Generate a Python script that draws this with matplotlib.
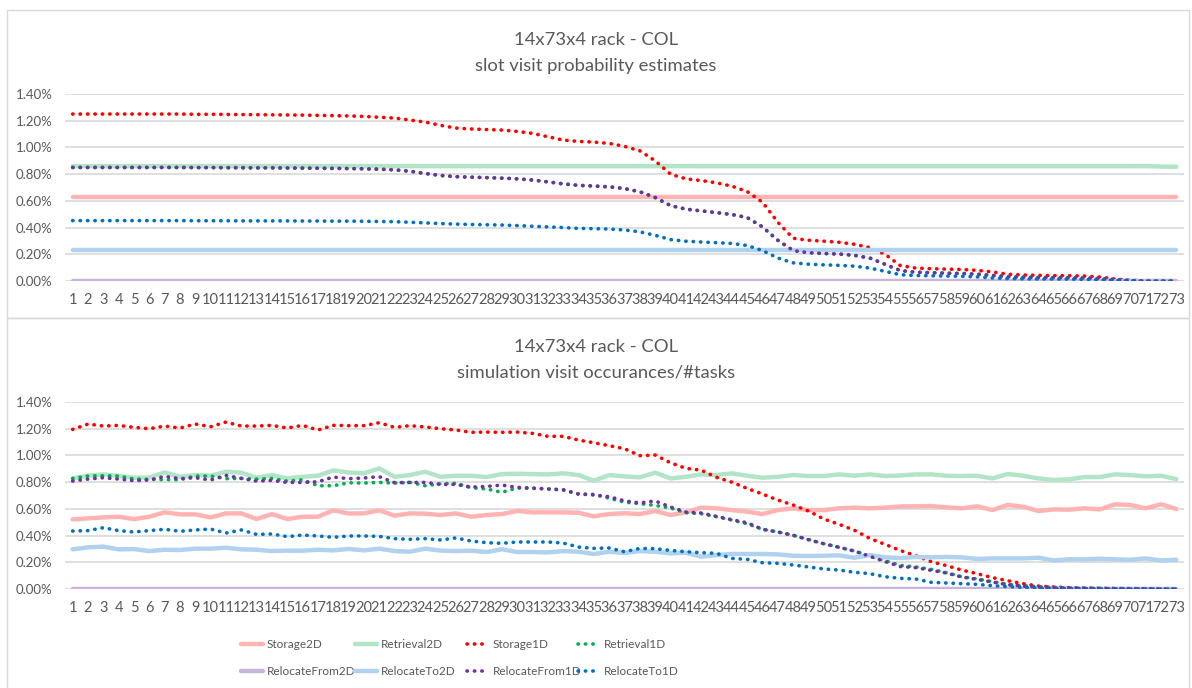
import matplotlib.pyplot as plt
from matplotlib.patches import Rectangle

plt.rcParams['font.family'] = ['Lato', 'DejaVu Sans']

# slot number along the column (x axis)
slots = list(range(1, 74))

series_names = ['Storage2D', 'Retrieval2D', 'Storage1D', 'Retrieval1D',
                'RelocateFrom2D', 'RelocateTo2D', 'RelocateFrom1D', 'RelocateTo1D']

# ---- top chart: slot visit probability estimates (%) ----
top_storage2d = [0.63, 0.63, 0.63, 0.63, 0.63, 0.63, 0.63, 0.63, 0.63, 0.63,
                 0.63, 0.63, 0.63, 0.63, 0.63, 0.63, 0.63, 0.63, 0.63, 0.63,
                 0.63, 0.63, 0.63, 0.63, 0.63, 0.63, 0.63, 0.63, 0.63, 0.63,
                 0.63, 0.63, 0.63, 0.63, 0.63, 0.63, 0.63, 0.63, 0.63, 0.63,
                 0.63, 0.63, 0.63, 0.63, 0.63, 0.63, 0.63, 0.63, 0.63, 0.63,
                 0.63, 0.63, 0.63, 0.63, 0.63, 0.63, 0.63, 0.63, 0.63, 0.63,
                 0.63, 0.63, 0.63, 0.63, 0.63, 0.63, 0.63, 0.63, 0.63, 0.63,
                 0.63, 0.63, 0.63]
top_retrieval2d = [0.86, 0.86, 0.86, 0.86, 0.86, 0.86, 0.86, 0.86, 0.86, 0.86,
                   0.86, 0.86, 0.86, 0.86, 0.86, 0.86, 0.86, 0.86, 0.86, 0.86,
                   0.86, 0.86, 0.86, 0.86, 0.86, 0.86, 0.86, 0.86, 0.86, 0.86,
                   0.86, 0.86, 0.86, 0.86, 0.86, 0.86, 0.86, 0.86, 0.86, 0.86,
                   0.86, 0.86, 0.86, 0.86, 0.86, 0.86, 0.86, 0.86, 0.86, 0.86,
                   0.86, 0.86, 0.86, 0.86, 0.86, 0.86, 0.86, 0.86, 0.86, 0.86,
                   0.86, 0.86, 0.86, 0.86, 0.86, 0.86, 0.86, 0.86, 0.86, 0.86,
                   0.86, 0.857, 0.855]
top_storage1d = [1.25, 1.25, 1.25, 1.25, 1.25, 1.25, 1.25, 1.25, 1.248, 1.248,
                 1.247, 1.246, 1.245, 1.244, 1.243, 1.242, 1.240, 1.238, 1.236, 1.232,
                 1.226, 1.220, 1.205, 1.190, 1.165, 1.145, 1.138, 1.134, 1.130, 1.120,
                 1.105, 1.080, 1.055, 1.045, 1.040, 1.030, 1.008, 0.975, 0.900, 0.800,
                 0.765, 0.752, 0.735, 0.710, 0.670, 0.590, 0.440, 0.320, 0.305, 0.298,
                 0.290, 0.275, 0.250, 0.200, 0.115, 0.097, 0.092, 0.089, 0.086, 0.080,
                 0.068, 0.050, 0.045, 0.042, 0.040, 0.040, 0.037, 0.030, 0.015, 0.005,
                 0.001, 0.0, 0.0]
top_from1d = [0.850, 0.850, 0.850, 0.850, 0.850, 0.850, 0.850, 0.850, 0.849, 0.849,
              0.848, 0.848, 0.847, 0.847, 0.846, 0.845, 0.844, 0.843, 0.842, 0.840,
              0.837, 0.832, 0.822, 0.805, 0.790, 0.781, 0.777, 0.774, 0.770, 0.765,
              0.756, 0.742, 0.727, 0.716, 0.711, 0.705, 0.692, 0.668, 0.625, 0.565,
              0.538, 0.525, 0.512, 0.498, 0.475, 0.405, 0.305, 0.228, 0.212, 0.206,
              0.202, 0.192, 0.172, 0.125, 0.078, 0.066, 0.062, 0.059, 0.056, 0.051,
              0.042, 0.032, 0.028, 0.026, 0.025, 0.024, 0.022, 0.018, 0.010, 0.004,
              0.0, 0.0, 0.0]
top_retrieval1d = top_from1d  # hidden under RelocateFrom1D in the estimate chart
top_from2d = [0.0, 0.0, 0.0, 0.0, 0.0, 0.0, 0.0, 0.0, 0.0, 0.0,
              0.0, 0.0, 0.0, 0.0, 0.0, 0.0, 0.0, 0.0, 0.0, 0.0,
              0.0, 0.0, 0.0, 0.0, 0.0, 0.0, 0.0, 0.0, 0.0, 0.0,
              0.0, 0.0, 0.0, 0.0, 0.0, 0.0, 0.0, 0.0, 0.0, 0.0,
              0.0, 0.0, 0.0, 0.0, 0.0, 0.0, 0.0, 0.0, 0.0, 0.0,
              0.0, 0.0, 0.0, 0.0, 0.0, 0.0, 0.0, 0.0, 0.0, 0.0,
              0.0, 0.0, 0.0, 0.0, 0.0, 0.0, 0.0, 0.0, 0.0, 0.0,
              0.0, 0.0, 0.0]
top_to2d = [0.23, 0.23, 0.23, 0.23, 0.23, 0.23, 0.23, 0.23, 0.23, 0.23,
            0.23, 0.23, 0.23, 0.23, 0.23, 0.23, 0.23, 0.23, 0.23, 0.23,
            0.23, 0.23, 0.23, 0.23, 0.23, 0.23, 0.23, 0.23, 0.23, 0.23,
            0.23, 0.23, 0.23, 0.23, 0.23, 0.23, 0.23, 0.23, 0.23, 0.23,
            0.23, 0.23, 0.23, 0.23, 0.23, 0.23, 0.23, 0.23, 0.23, 0.23,
            0.23, 0.23, 0.23, 0.23, 0.23, 0.23, 0.23, 0.23, 0.23, 0.23,
            0.23, 0.23, 0.23, 0.23, 0.23, 0.23, 0.23, 0.23, 0.23, 0.23,
            0.23, 0.23, 0.23]
top_to1d = [0.452, 0.452, 0.452, 0.452, 0.452, 0.452, 0.452, 0.452, 0.451, 0.451,
            0.451, 0.450, 0.450, 0.450, 0.450, 0.449, 0.449, 0.448, 0.448, 0.447,
            0.446, 0.444, 0.440, 0.435, 0.430, 0.426, 0.423, 0.421, 0.419, 0.415,
            0.410, 0.405, 0.400, 0.394, 0.392, 0.389, 0.382, 0.368, 0.342, 0.310,
            0.298, 0.292, 0.287, 0.281, 0.266, 0.228, 0.172, 0.136, 0.126, 0.121,
            0.117, 0.111, 0.097, 0.072, 0.047, 0.041, 0.039, 0.037, 0.035, 0.031,
            0.023, 0.018, 0.016, 0.015, 0.015, 0.014, 0.012, 0.010, 0.005, 0.002,
            0.0, 0.0, 0.0]

# ---- bottom chart: simulation visit occurances / #tasks (%) ----
bot_storage2d = [0.521, 0.529, 0.536, 0.541, 0.524, 0.541, 0.574, 0.559, 0.559, 0.536,
                 0.566, 0.566, 0.524, 0.561, 0.524, 0.541, 0.541, 0.589, 0.565, 0.566,
                 0.589, 0.549, 0.566, 0.564, 0.554, 0.566, 0.541, 0.554, 0.561, 0.584,
                 0.574, 0.574, 0.574, 0.571, 0.544, 0.561, 0.567, 0.561, 0.584, 0.554,
                 0.574, 0.609, 0.604, 0.591, 0.579, 0.561, 0.591, 0.604, 0.591, 0.591,
                 0.604, 0.609, 0.604, 0.609, 0.618, 0.619, 0.621, 0.611, 0.604, 0.619,
                 0.591, 0.629, 0.616, 0.584, 0.596, 0.594, 0.604, 0.596, 0.634, 0.629,
                 0.604, 0.634, 0.599]
bot_retrieval2d = [0.828, 0.848, 0.858, 0.846, 0.833, 0.835, 0.873, 0.840, 0.853, 0.848,
                   0.878, 0.871, 0.833, 0.853, 0.828, 0.840, 0.848, 0.888, 0.872, 0.866,
                   0.903, 0.840, 0.853, 0.878, 0.840, 0.848, 0.848, 0.838, 0.860, 0.863,
                   0.860, 0.858, 0.866, 0.853, 0.811, 0.853, 0.843, 0.836, 0.871, 0.828,
                   0.840, 0.858, 0.853, 0.866, 0.848, 0.833, 0.840, 0.853, 0.846, 0.846,
                   0.858, 0.848, 0.858, 0.846, 0.850, 0.858, 0.858, 0.848, 0.846, 0.848,
                   0.828, 0.861, 0.848, 0.828, 0.816, 0.821, 0.838, 0.838, 0.858, 0.853,
                   0.843, 0.848, 0.823]
bot_storage1d = [1.195, 1.235, 1.220, 1.225, 1.210, 1.200, 1.220, 1.205, 1.235, 1.215,
                 1.250, 1.220, 1.220, 1.225, 1.205, 1.225, 1.190, 1.225, 1.223, 1.223,
                 1.245, 1.210, 1.223, 1.213, 1.200, 1.190, 1.173, 1.175, 1.173, 1.175,
                 1.165, 1.143, 1.143, 1.115, 1.095, 1.073, 1.050, 0.998, 1.003, 0.945,
                 0.903, 0.890, 0.836, 0.800, 0.753, 0.711, 0.666, 0.629, 0.584, 0.524,
                 0.484, 0.440, 0.379, 0.334, 0.288, 0.250, 0.205, 0.175, 0.142, 0.115,
                 0.085, 0.062, 0.040, 0.022, 0.015, 0.010, 0.007, 0.005, 0.004, 0.003,
                 0.002, 0.001, 0.001]
bot_retrieval1d = [0.828, 0.846, 0.848, 0.846, 0.823, 0.821, 0.818, 0.818, 0.846, 0.846,
                   0.826, 0.828, 0.823, 0.828, 0.808, 0.818, 0.773, 0.773, 0.795, 0.793,
                   0.798, 0.793, 0.798, 0.773, 0.788, 0.791, 0.758, 0.749, 0.724, 0.756,
                   0.753, 0.749, 0.741, 0.711, 0.709, 0.679, 0.650, 0.639, 0.626, 0.606,
                   0.571, 0.564, 0.541, 0.516, 0.489, 0.447, 0.427, 0.402, 0.371, 0.339,
                   0.312, 0.284, 0.247, 0.212, 0.177, 0.165, 0.148, 0.122, 0.092, 0.075,
                   0.055, 0.035, 0.025, 0.017, 0.012, 0.008, 0.006, 0.005, 0.003, 0.003,
                   0.002, 0.001, 0.001]
bot_from2d = [0.0, 0.0, 0.0, 0.0, 0.0, 0.0, 0.0, 0.0, 0.0, 0.0,
              0.0, 0.0, 0.0, 0.0, 0.0, 0.0, 0.0, 0.0, 0.0, 0.0,
              0.0, 0.0, 0.0, 0.0, 0.0, 0.0, 0.0, 0.0, 0.0, 0.0,
              0.0, 0.0, 0.0, 0.0, 0.0, 0.0, 0.0, 0.0, 0.0, 0.0,
              0.0, 0.0, 0.0, 0.0, 0.0, 0.0, 0.0, 0.0, 0.0, 0.0,
              0.0, 0.0, 0.0, 0.0, 0.0, 0.0, 0.0, 0.0, 0.0, 0.0,
              0.0, 0.0, 0.0, 0.0, 0.0, 0.0, 0.0, 0.0, 0.0, 0.0,
              0.0, 0.0, 0.0]
bot_to2d = [0.297, 0.312, 0.317, 0.297, 0.299, 0.284, 0.294, 0.292, 0.302, 0.302,
            0.309, 0.297, 0.294, 0.284, 0.287, 0.287, 0.294, 0.289, 0.300, 0.289,
            0.302, 0.284, 0.279, 0.302, 0.287, 0.284, 0.287, 0.277, 0.297, 0.277,
            0.277, 0.274, 0.284, 0.279, 0.262, 0.279, 0.270, 0.284, 0.279, 0.267,
            0.272, 0.242, 0.254, 0.262, 0.262, 0.262, 0.259, 0.249, 0.247, 0.249,
            0.252, 0.234, 0.254, 0.237, 0.232, 0.240, 0.237, 0.240, 0.237, 0.225,
            0.229, 0.229, 0.229, 0.234, 0.214, 0.222, 0.222, 0.227, 0.222, 0.219,
            0.229, 0.214, 0.219]
bot_from1d = [0.808, 0.823, 0.833, 0.823, 0.811, 0.816, 0.843, 0.826, 0.833, 0.816,
              0.851, 0.828, 0.808, 0.813, 0.798, 0.798, 0.803, 0.838, 0.826, 0.831,
              0.841, 0.796, 0.798, 0.798, 0.783, 0.783, 0.763, 0.768, 0.778, 0.761,
              0.756, 0.749, 0.743, 0.711, 0.704, 0.691, 0.660, 0.644, 0.659, 0.614,
              0.576, 0.569, 0.544, 0.519, 0.496, 0.447, 0.427, 0.402, 0.369, 0.339,
              0.312, 0.284, 0.245, 0.205, 0.168, 0.160, 0.140, 0.120, 0.090, 0.072,
              0.052, 0.032, 0.022, 0.015, 0.010, 0.007, 0.005, 0.004, 0.003, 0.002,
              0.002, 0.001, 0.001]
bot_to1d = [0.434, 0.437, 0.459, 0.437, 0.427, 0.437, 0.447, 0.432, 0.442, 0.449,
            0.419, 0.442, 0.409, 0.412, 0.392, 0.404, 0.397, 0.387, 0.397, 0.397,
            0.394, 0.377, 0.372, 0.377, 0.367, 0.382, 0.359, 0.347, 0.342, 0.352,
            0.352, 0.352, 0.344, 0.314, 0.304, 0.307, 0.279, 0.304, 0.302, 0.289,
            0.279, 0.272, 0.267, 0.229, 0.222, 0.197, 0.192, 0.180, 0.165, 0.150,
            0.142, 0.125, 0.115, 0.092, 0.080, 0.075, 0.050, 0.045, 0.040, 0.035,
            0.025, 0.018, 0.012, 0.008, 0.005, 0.004, 0.003, 0.002, 0.002, 0.001,
            0.001, 0.0, 0.0]

top_series = [top_storage2d, top_retrieval2d, top_storage1d, top_retrieval1d,
              top_from2d, top_to2d, top_from1d, top_to1d]
bot_series = [bot_storage2d, bot_retrieval2d, bot_storage1d, bot_retrieval1d,
              bot_from2d, bot_to2d, bot_from1d, bot_to1d]

colors = ['#ffb3b3', '#b2e5c7', '#ff0000', '#00b050',
          '#c8b4dc', '#b0d2ee', '#7030a0', '#0070c0']
dotted = [False, False, True, True, False, False, True, True]

grey = '#595959'
W, H = 1192, 688
fig = plt.figure(figsize=(W / 100, H / 100), dpi=100)


def draw_chart(ax, data):
    lines = []
    for name, vals, c, dot in zip(series_names, data, colors, dotted):
        if dot:
            ln, = ax.plot(slots, vals, color=c, lw=2.6, linestyle=(0, (0.1, 1.95)),
                          dash_capstyle='round', label=name)
        else:
            ln, = ax.plot(slots, vals, color=c, lw=3.2, solid_capstyle='round', label=name)
        lines.append(ln)
    ax.set_xlim(0.5, 73.5)
    ax.set_ylim(0, 1.4)
    ax.set_yticks([0, 0.2, 0.4, 0.6, 0.8, 1.0, 1.2, 1.4])
    ax.set_yticklabels(['%.2f%%' % v for v in [0, 0.2, 0.4, 0.6, 0.8, 1.0, 1.2, 1.4]])
    ax.set_xticks(slots)
    ax.set_xticklabels([str(s) for s in slots])
    ax.tick_params(axis='both', length=0, colors=grey)
    ax.tick_params(axis='y', pad=9, labelsize=9.5)
    ax.tick_params(axis='x', pad=9, labelsize=10.5)
    ax.grid(axis='y', color='#d9d9d9', lw=1.2)
    ax.set_axisbelow(True)
    for s in ax.spines.values():
        s.set_visible(False)
    return lines


ax_top = fig.add_axes([65 / W, 1 - 281 / H, 1119 / W, 187 / H])
draw_chart(ax_top, top_series)
ax_bot = fig.add_axes([65 / W, 1 - 589 / H, 1119 / W, 187 / H])
handles = draw_chart(ax_bot, bot_series)

# chart titles
fig.text(0.5, 1 - 40 / H, '14x73x4 rack - COL', ha='center', va='center', fontsize=13.3, color=grey)
fig.text(0.5, 1 - 66 / H, 'slot visit probability estimates', ha='center', va='center',
         fontsize=13.3, color=grey)
fig.text(0.5, 1 - 347 / H, '14x73x4 rack - COL', ha='center', va='center', fontsize=13.3, color=grey)
fig.text(0.5, 1 - 372 / H, 'simulation visit occurances/#tasks', ha='center', va='center',
         fontsize=13.3, color=grey)

# chart area borders
fig.add_artist(Rectangle((7 / W, 1 - 318 / H), 1182 / W, 308 / H, transform=fig.transFigure,
                         fill=False, ec='#d9d9d9', lw=1))
fig.add_artist(Rectangle((7 / W, -0.05), 1182 / W, 0.05 + 1 - 318 / H, transform=fig.transFigure,
                         fill=False, ec='#d9d9d9', lw=1))

# legend: Excel lays entries out row-wise in fixed-width columns,
# so place one single-column legend per column
legend_cols = [241, 355, 467, 578]
for k, x0 in enumerate(legend_cols):
    pair = [k, k + 4]
    fig.legend([handles[i] for i in pair], [series_names[i] for i in pair], ncol=1,
               loc='center left', bbox_to_anchor=(x0 / W, 1 - 658 / H), frameon=False,
               fontsize=8.5, labelcolor=grey, handlelength=1.9, handletextpad=0.25,
               labelspacing=1.35, borderpad=0, borderaxespad=0)

fig.savefig('out.png', dpi=100)
